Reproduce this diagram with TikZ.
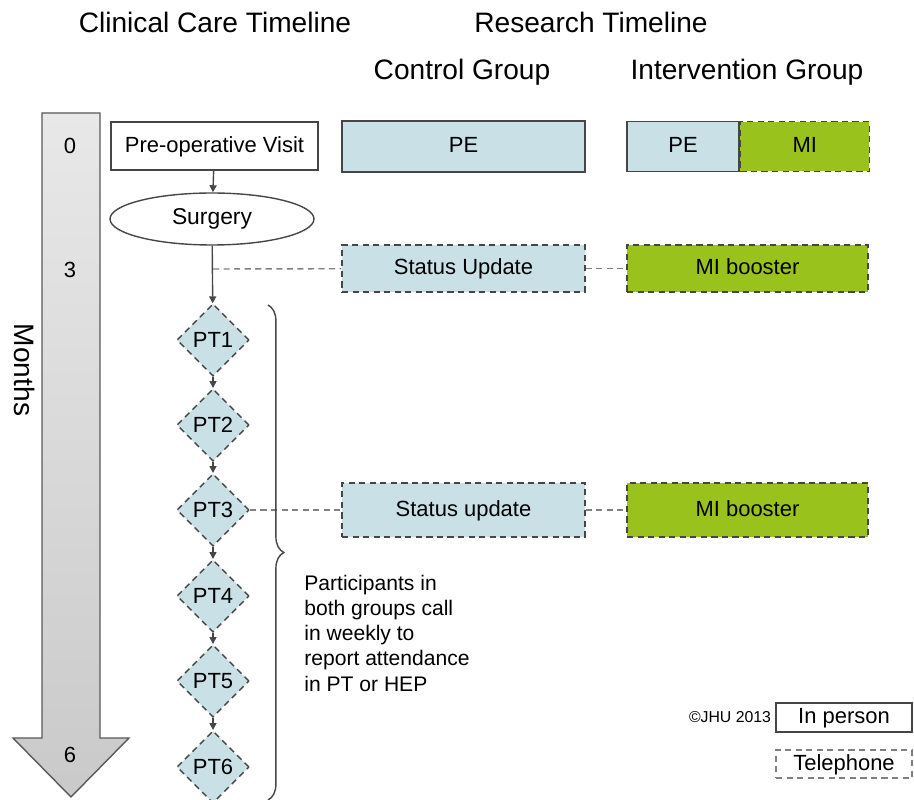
\documentclass[tikz,border=0pt]{standalone}
\usepackage{fontspec}
\setmainfont{Liberation Sans}
\usepackage{xcolor}
\usetikzlibrary{shapes.geometric,arrows.meta,positioning,decorations.pathreplacing}
\definecolor{peblue}{RGB}{200,224,230}
\definecolor{migreen}{RGB}{153,194,28}
\definecolor{edgegray}{RGB}{70,70,70}
\tikzset{
  inperson/.style={draw=edgegray, line width=0.8pt, rectangle, font=\fontsize{12.5}{14}\selectfont, inner sep=0pt, text height=0.72em, text depth=0pt},
  phone/.style={inperson, dashed, dash pattern=on 3.5pt off 2.5pt},
  ptdiamond/.style={diamond, draw=edgegray, fill=peblue, line width=0.8pt, dash pattern=on 3.5pt off 2.5pt, minimum size=1.45cm, inner sep=0pt, font=\fontsize{12.5}{14}\selectfont},
  flow/.style={draw=edgegray, line width=0.8pt, -{Triangle[length=4pt,width=4pt]}},
  link/.style={draw=gray, line width=0.8pt, dash pattern=on 3.5pt off 2.5pt},
  header/.style={font=\fontsize{16}{19}\selectfont},
}
\begin{document}
\begin{tikzpicture}[x=0.02cm, y=-0.02cm]
    \useasboundingbox (0,0) rectangle (914,800);
    % titles
    \node[header] (clinical) at (215,22) {Clinical Care Timeline};
    \node[header] (research) at (591,22) {Research Timeline};
    \node[header] (control) at (462,72) {Control Group};
    \node[header] (interv) at (747,72) {Intervention Group};

    % months arrow
    \draw[draw=gray!70!black, line width=0.8pt, top color=gray!18, bottom color=gray!42]
        (42,113) -- (100,113) -- (100,738) -- (129,738) -- (71,797) -- (13,738) -- (42,738) -- cycle;
    \node[font=\fontsize{12.5}{14}\selectfont] (m0) at (70,146) {0};
    \node[font=\fontsize{12.5}{14}\selectfont] (m3) at (70,270) {3};
    \node[font=\fontsize{12.5}{14}\selectfont] (m6) at (70,755) {6};
    \node[header, rotate=-90] (months) at (25,370) {Months};

    % clinical care
    \node[inperson, minimum width=4.14cm, minimum height=0.96cm] (preop) at (214.5,146) {Pre-operative Visit};
    \node[ellipse, draw=edgegray, line width=0.8pt, minimum width=4.08cm, minimum height=1.04cm, font=\fontsize{13}{15}\selectfont] (surgery) at (212,219) {Surgery};
    \foreach \i/\y in {1/340,2/425,3/510,4/596,5/681,6/767}
        \node[ptdiamond] (pt\i) at (213,\y) {PT\i};
    \draw[flow] (preop) -- (surgery);
    \draw[flow] (surgery) -- (pt1);
    \foreach \i/\j in {1/2,2/3,3/4,4/5,5/6}
        \draw[flow] (pt\i) -- (pt\j);
    \coordinate (s3) at (213,269);

    % research
    \node[inperson, fill=peblue, minimum width=4.86cm, minimum height=1.02cm] (pec) at (463.5,146.5) {PE};
    \node[inperson, fill=peblue, minimum width=2.24cm, minimum height=1.0cm] (pei) at (683,146.5) {PE};
    \node[phone, fill=migreen, minimum width=2.58cm, minimum height=1.0cm, anchor=west] (mi) at (pei.east) {MI};
    \node[phone, fill=peblue, minimum width=4.86cm, minimum height=0.94cm] (su1) at (463.5,268.5) {Status Update};
    \node[phone, fill=migreen, minimum width=4.82cm, minimum height=0.94cm] (mib1) at (747.5,268.5) {MI booster};
    \node[phone, fill=peblue, minimum width=4.86cm, minimum height=1.08cm] (su2) at (463.5,510) {Status update};
    \node[phone, fill=migreen, minimum width=4.82cm, minimum height=1.08cm] (mib2) at (747.5,510) {MI booster};
    \draw[link] (s3) -- (su1);
    \draw[link] (su1) -- (mib1);
    \draw[link] (pt3) -- (su2);
    \draw[link] (su2) -- (mib2);

    % brace and note
    \coordinate (btop) at (268,305);
    \coordinate (bbot) at (268,800);
    \draw[edgegray, line width=0.8pt, decorate, decoration={brace, amplitude=9pt}] (btop) -- (bbot);
    \node[anchor=north west, align=left, inner sep=0pt, font=\fontsize{12}{14.3}\selectfont] (note) at (304,575)
        {Participants in\\both groups call\\in weekly to\\report attendance\\in PT or HEP};

    % legend
    \node[font=\fontsize{9}{11}\selectfont] (copy) at (730,717) {©JHU 2013};
    \node[inperson, minimum width=2.72cm, minimum height=0.58cm] (legperson) at (844,717.5) {In person};
    \node[phone, draw=gray, minimum width=2.72cm, minimum height=0.56cm] (legphone) at (844,764) {Telephone};
\end{tikzpicture}
\end{document}
